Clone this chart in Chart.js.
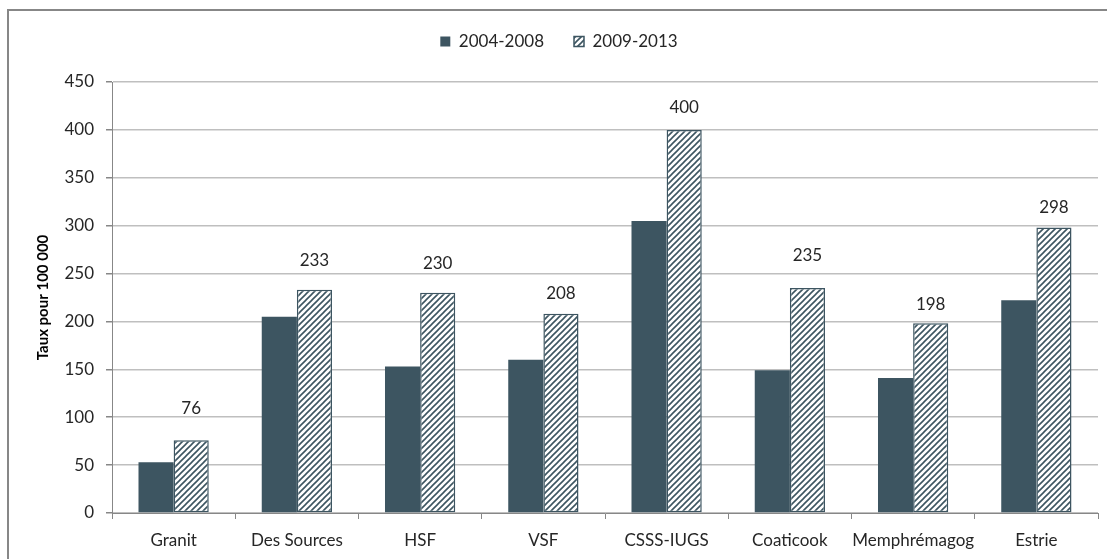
<!DOCTYPE html>
<html>
<head>
<meta charset="utf-8">
<script src="https://cdn.jsdelivr.net/npm/chart.js@4/dist/chart.umd.min.js"></script>
<style>
  html, body { margin: 0; padding: 0; background: #fff; }
  #wrap { width: 1107px; height: 559px; position: relative; }
</style>
</head>
<body>
<div id="wrap"><canvas id="c" width="1107" height="559"></canvas></div>
<script>
// Territoires (RLS) et Estrie
const categories = ['Granit', 'Des Sources', 'HSF', 'VSF', 'CSSS-IUGS', 'Coaticook', 'Memphrémagog', 'Estrie'];
const periods = ['2004-2008', '2009-2013'];
const rates2004 = [53, 205, 153, 160, 305, 149, 141, 222];
const rates2009 = [76, 233, 230, 208, 400, 235, 198, 298];
const yTicks = [0, 50, 100, 150, 200, 250, 300, 350, 400, 450];

const DARK = '#3d5561';
const FONT = 'Lato, "Open Sans", sans-serif';

// Diagonal hatch used for the second period
function makeHatch() {
  const s = 6;
  const p = document.createElement('canvas');
  p.width = s; p.height = s;
  const g = p.getContext('2d');
  g.fillStyle = '#fff';
  g.fillRect(0, 0, s, s);
  g.strokeStyle = DARK;
  g.lineWidth = 1.6;
  g.beginPath();
  g.moveTo(-1, s + 1); g.lineTo(s + 1, -1);
  g.moveTo(-1, 1); g.lineTo(1, -1);
  g.moveTo(s - 1, s + 1); g.lineTo(s + 1, s - 1);
  g.stroke();
  return g.createPattern(p, 'repeat');
}
const hatch = makeHatch();

// Outer frame around the whole chart
const framePlugin = {
  id: 'frame',
  afterDraw(chart) {
    const ctx = chart.ctx;
    ctx.save();
    ctx.strokeStyle = '#878787';
    ctx.lineWidth = 2;
    ctx.strokeRect(8, 10, 1120, 580);
    ctx.restore();
  }
};

// Extra white space below the legend
const legendGap = {
  id: 'legendGap',
  beforeLayout(chart) {
    const lg = chart.legend;
    if (lg && !lg._gapPatched) {
      const fit = lg.fit;
      lg.fit = function () { fit.call(this); this.height += 22; };
      lg._gapPatched = true;
    }
  }
};

// Values above the 2009-2013 bars (gap in px between bar top and label centre)
const valueLabels = {
  id: 'valueLabels',
  afterDatasetsDraw(chart, args, opts) {
    const ctx = chart.ctx;
    const meta = chart.getDatasetMeta(1);
    ctx.save();
    ctx.font = '17px ' + FONT;
    ctx.fillStyle = '#262626';
    ctx.textAlign = 'center';
    ctx.textBaseline = 'middle';
    meta.data.forEach((bar, i) => {
      const gap = opts.gaps[i] ?? 25;
      ctx.fillText(String(rates2009[i]), bar.x, bar.y - gap);
    });
    ctx.restore();
  }
};

new Chart(document.getElementById('c'), {
  type: 'bar',
  data: {
    labels: categories,
    datasets: [
      {
        label: periods[0],
        data: rates2004,
        backgroundColor: DARK,
        borderColor: DARK,
        borderWidth: 0,
        categoryPercentage: 0.57,
        barPercentage: 1.0
      },
      {
        label: periods[1],
        data: rates2009,
        backgroundColor: hatch,
        borderColor: DARK,
        borderWidth: 1.5,
        borderSkipped: false,
        categoryPercentage: 0.57,
        barPercentage: 1.0
      }
    ]
  },
  options: {
    responsive: false,
    animation: false,
    devicePixelRatio: 1,
    layout: { padding: { left: 20, right: 9, top: 3, bottom: 9 } },
    plugins: {
      legend: {
        position: 'top',
        align: 'center',
        labels: {
          boxWidth: 10,
          boxHeight: 10,
          padding: 30,
          color: '#262626',
          font: { family: FONT, size: 17 }
        }
      },
      tooltip: { enabled: false },
      valueLabels: { gaps: [32, 29, 29, 20, 22, 32, 19, 20] }
    },
    scales: {
      x: {
        afterFit(axis) { axis.height = 37; },
        grid: {
          display: true,
          drawOnChartArea: false,
          drawTicks: true,
          tickLength: 6,
          color: '#878787',
          offset: true
        },
        border: { display: true, color: '#878787', width: 1 },
        ticks: {
          color: '#262626',
          font: { family: FONT, size: 17 },
          padding: 11,
          maxRotation: 0,
          autoSkip: false
        }
      },
      y: {
        min: 0,
        max: 450,
        afterBuildTicks(axis) { axis.ticks = yTicks.map(v => ({ value: v })); },
        afterFit(axis) { axis.width = 92; },
        grid: {
          color: '#bfbfbf',
          lineWidth: 1.5,
          drawTicks: true,
          tickLength: 6,
          tickColor: '#878787'
        },
        border: { display: true, color: '#878787', width: 1 },
        ticks: {
          color: '#262626',
          font: { family: FONT, size: 17 },
          padding: 12
        },
        title: {
          display: true,
          text: 'Taux pour 100 000',
          color: '#000',
          font: { family: FONT, size: 15, weight: 'bold' },
          padding: { top: 14, bottom: 0 }
        }
      }
    }
  },
  plugins: [framePlugin, legendGap, valueLabels]
});
</script>
</body>
</html>
